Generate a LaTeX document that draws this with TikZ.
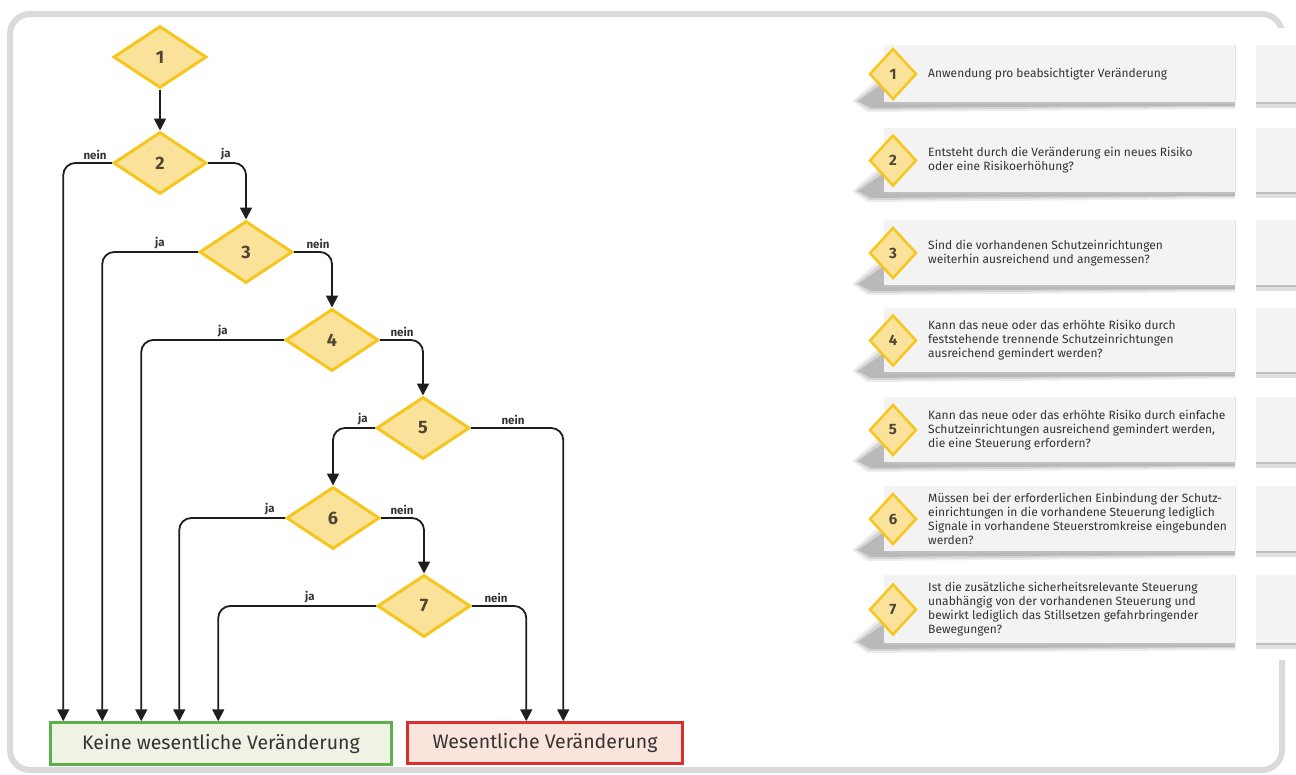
\documentclass[tikz,border=0pt]{standalone}
\usepackage{fontspec}
\setmainfont{Fira Sans}
\usetikzlibrary{shapes.geometric,arrows.meta,calc}
\definecolor{dfill}{HTML}{FBE29A}
\definecolor{dline}{HTML}{F6C61E}
\definecolor{dnum}{HTML}{4F4536}
\definecolor{connc}{HTML}{1E1E1E}
\definecolor{gfill}{HTML}{EEF3E4}
\definecolor{gline}{HTML}{5DB04B}
\definecolor{rfill}{HTML}{FBE4DC}
\definecolor{rline}{HTML}{D9302B}
\definecolor{framec}{HTML}{DADADA}
\definecolor{cardc}{HTML}{F3F3F3}
\definecolor{txtc}{HTML}{333333}
\newcommand\qcard[5]{% #1 id, #2 top, #3 bottom, #4 number, #5 text
  \fill[black, fill opacity=0.07]
    (884,#3-32) -- (852,#3-4) -- (867,#3+7) -- (1000,#3+6) -- (1235,#3+4) -- (1235,#3-3) -- cycle;
  \fill[black, fill opacity=0.10]
    (884,#3-27) -- (855,#3-4) -- (869,#3+5) -- (1000,#3+4) -- (1235,#3+2) -- (1235,#3-3) -- cycle;
  \fill[black, fill opacity=0.13]
    (884,#3-22) -- (858,#3-4) -- (871,#3+3) -- (980,#3+2) -- (1235,#3+1) -- (1235,#3-3) -- cycle;
  \fill[cardc] (884,#2) rectangle (1235,#3-3);
  \draw[black!25, line width=2pt] (886,#3-2) -- (1235,#3-2);
  \draw[black!10, line width=1pt] (1235,#2) -- (1235,#3-3);
  \fill[black, fill opacity=0.12] (1256,#3-3) rectangle (1296,#3+3);
  \fill[cardc] (1256,#2) rectangle (1296,#3-3);
  \draw[black!25, line width=2pt] (1256,#3-2) -- (1296,#3-2);
  \node[smalld] (k#1) at (893,{(#2+#3)/2-1}) {#4};
  \node[cardtxt] (t#1) at (928,{(#2+#3)/2-1}) {#5};
}
\begin{document}
\begin{tikzpicture}[x=1pt,y=-1pt,
  bigd/.style={diamond, draw=dline, fill=dfill, line width=3pt, minimum width=93pt, minimum height=62pt, inner sep=0pt, font=\bfseries\fontsize{18}{18}\selectfont, text=dnum},
  smalld/.style={diamond, draw=dline, fill=dfill, line width=2.5pt, minimum width=47pt, minimum height=51pt, inner sep=0pt, font=\bfseries\fontsize{15}{15}\selectfont, text=dnum},
  conn/.style={draw=connc, line width=1.8pt, rounded corners=12pt, -{Triangle[length=12pt,width=12pt]}},
  lbl/.style={font=\bfseries\fontsize{11.5}{11.5}\selectfont, text=txtc, anchor=south, inner sep=0pt},
  cardtxt/.style={anchor=west, align=left, font=\fontsize{12}{14}\selectfont, text=txtc, inner sep=0pt},
  endbox/.style={line width=2.5pt, font=\fontsize{19.5}{19.5}\selectfont, text=txtc, inner sep=0pt}
]
\useasboundingbox (0,0) rectangle (1296,774);
% frame
\draw[framec, line width=6pt, rounded corners=20pt] (10,14) rectangle (1282,770);
\fill[white] (1237,28) rectangle (1296,660);

% cards
\qcard{1}{45}{105}{1}{Anwendung pro beabsichtigter Veränderung}
\qcard{2}{128}{195}{2}{Entsteht durch die Veränderung ein neues Risiko\\oder eine Risikoerhöhung?}
\qcard{3}{220}{288}{3}{Sind die vorhandenen Schutzeinrichtungen\\weiterhin ausreichend und angemessen?}
\qcard{4}{308}{375}{4}{Kann das neue oder das erhöhte Risiko durch\\feststehende trennende Schutzeinrichtungen\\ausreichend gemindert werden?}
\qcard{5}{397}{465}{5}{Kann das neue oder das erhöhte Risiko durch einfache\\Schutzeinrichtungen ausreichend gemindert werden,\\die eine Steuerung erfordern?}
\qcard{6}{486}{554}{6}{Müssen bei der erforderlichen Einbindung der Schutz-\\einrichtungen in die vorhandene Steuerung lediglich\\Signale in vorhandene Steuerstromkreise eingebunden\\werden?}
\qcard{7}{575}{646}{7}{Ist die zusätzliche sicherheitsrelevante Steuerung\\unabhängig von der vorhandenen Steuerung und\\bewirkt lediglich das Stillsetzen gefahrbringender\\Bewegungen?}

% end boxes
\node[endbox, draw=gline, fill=gfill, minimum width=341pt, minimum height=42pt] (green) at (221,743.5) {Keine wesentliche Veränderung};
\node[endbox, draw=rline, fill=rfill, minimum width=275pt, minimum height=41pt] (red) at (545,743) {Wesentliche Veränderung};
\coordinate (gA) at ($(green.north west)+(14,0)$);
\coordinate (gB) at ($(green.north west)+(53,0)$);
\coordinate (gC) at ($(green.north west)+(92,0)$);
\coordinate (gD) at ($(green.north west)+(130,0)$);
\coordinate (gE) at ($(green.north west)+(169,0)$);
\coordinate (rA) at ($(red.north west)+(120,0)$);
\coordinate (rB) at ($(red.north west)+(157,0)$);

% diamonds
\node[bigd] (d1) at (160,57) {1};
\node[bigd] (d2) at (160,163) {2};
\node[bigd] (d3) at (246,252) {3};
\node[bigd] (d4) at (332,340) {4};
\node[bigd] (d5) at (423,428) {5};
\node[bigd] (d6) at (333,518) {6};
\node[bigd] (d7) at (424,606) {7};

% connectors
\draw[conn] (d1.south) -- (d2.north);
\draw[conn] (d2.west) -| (gA);
\draw[conn] (d2.east) -| (d3.north);
\draw[conn] (d3.west) -| (gB);
\draw[conn] (d3.east) -| (d4.north);
\draw[conn] (d4.west) -| (gC);
\draw[conn] (d4.east) -| (d5.north);
\draw[conn] (d5.west) -| (d6.north);
\draw[conn] (d5.east) -| (rB);
\draw[conn] (d6.west) -| (gD);
\draw[conn] (d6.east) -| (d7.north);
\draw[conn] (d7.west) -| (gE);
\draw[conn] (d7.east) -| (rA);

% labels
\node[lbl] (l2n) at (95,160) {nein};
\node[lbl] (l2j) at (226,160) {ja};
\node[lbl] (l3j) at (160,249) {ja};
\node[lbl] (l3n) at (318,249) {nein};
\node[lbl] (l4j) at (223,337) {ja};
\node[lbl] (l4n) at (402,337) {nein};
\node[lbl] (l5j) at (363,425) {ja};
\node[lbl] (l5n) at (513,425) {nein};
\node[lbl] (l6j) at (270,515) {ja};
\node[lbl] (l6n) at (402,515) {nein};
\node[lbl] (l7j) at (310,603) {ja};
\node[lbl] (l7n) at (496,603) {nein};
\end{tikzpicture}
\end{document}
